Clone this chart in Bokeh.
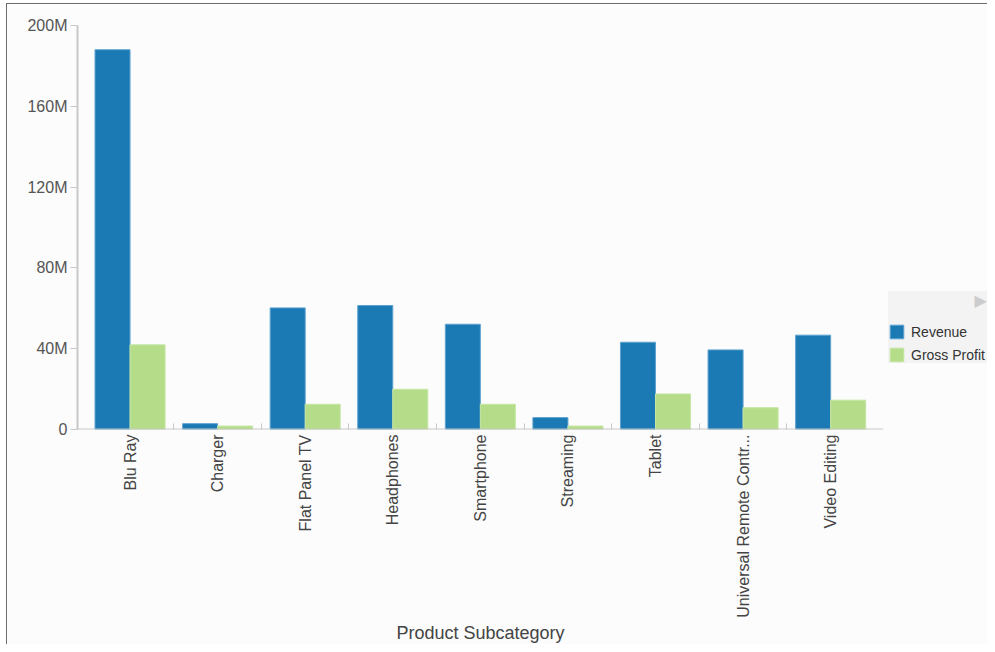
import math
from bokeh.plotting import figure
from bokeh.models import ColumnDataSource, FixedTicker, Range1d, Legend, LegendItem
from bokeh.embed import file_html
from bokeh.resources import INLINE

categories = ["Blu Ray", "Charger", "Flat Panel TV", "Headphones", "Smartphone",
              "Streaming", "Tablet", "Universal Remote Contr...", "Video Editing"]
revenue = [188.0, 2.9, 60.2, 61.4, 52.1, 5.9, 43.2, 39.4, 46.7]        # millions
gross_profit = [41.9, 1.7, 12.5, 19.9, 12.5, 1.7, 17.6, 10.8, 14.5]    # millions
y_ticks = [0, 40, 80, 120, 160, 200]
y_tick_labels = ["0", "40M", "80M", "120M", "160M", "200M"]
x_title = "Product Subcategory"

n = len(categories)
centers = [i + 0.5 for i in range(n)]
src = ColumnDataSource(dict(
    x_rev=[c - 0.2 for c in centers],
    x_gp=[c + 0.2 for c in centers],
    revenue=revenue,
    gross_profit=gross_profit,
))

# the plotting frame runs to the right edge so that the legend can sit inside it;
# the category axis itself only covers 805.7 px of the 911 px frame
x_start = -0.1
x_end = x_start + (n + 0.2) * 911 / 805.7

BG = "#fbfcfb"
p = figure(width=981, height=641, output_backend="svg", toolbar_location=None,
           x_range=Range1d(x_start, x_end), y_range=Range1d(0, 200),
           min_border_left=70, min_border_right=0, min_border_top=21, min_border_bottom=216)
p.margin = (3, 0, 0, 6)
p.background_fill_color = BG
p.border_fill_color = BG
p.outline_line_color = None
p.grid.visible = False
p.styles = {"border-left": "1px solid #6b6b6b", "border-top": "1px solid #6b6b6b", "box-sizing": "border-box"}

r1 = p.vbar(x="x_rev", top="revenue", width=0.4, source=src, fill_color="#1b79b4", line_color="#5fa3cf", line_width=1)
r2 = p.vbar(x="x_gp", top="gross_profit", width=0.4, source=src, fill_color="#b5dd89", line_color="#c6e6a4", line_width=1)

# x axis baseline (only under the categories)
p.line(x=[-0.1, n + 0.1], y=[0, 0], line_color="#c8c8c8", line_width=2)

xa = p.xaxis[0]
xa.ticker = FixedTicker(ticks=centers, minor_ticks=list(range(1, n)))
xa.major_label_overrides = {c: name for c, name in zip(centers, categories)}
xa.major_label_orientation = math.pi / 2
xa.major_tick_in = 0
xa.major_tick_out = 0
xa.minor_tick_in = 6
xa.minor_tick_out = 0
xa.minor_tick_line_color = "#c8c8c8"
xa.axis_line_color = None
xa.major_label_standoff = 5
xa.major_label_text_font = "Liberation Sans"
xa.major_label_text_font_size = "16px"
xa.major_label_text_color = "#444444"
# trailing no-break spaces shift the centred title under the category axis
xa.axis_label = x_title + "\u00a0" * 21
xa.axis_label_text_font = "Liberation Sans"
xa.axis_label_text_font_size = "18px"
xa.axis_label_text_font_style = "normal"
xa.axis_label_text_color = "#444444"
xa.axis_label_standoff = 2

ya = p.yaxis[0]
ya.ticker = FixedTicker(ticks=y_ticks)
ya.major_label_overrides = {t: l for t, l in zip(y_ticks, y_tick_labels)}
ya.minor_tick_line_color = None
ya.major_tick_in = 0
ya.major_tick_out = 7
ya.major_tick_line_color = "#c8c8c8"
ya.axis_line_color = "#c8c8c8"
ya.axis_line_width = 2
ya.major_label_standoff = 3
ya.major_label_text_font = "Liberation Sans"
ya.major_label_text_font_size = "16px"
ya.major_label_text_color = "#555555"

legend = Legend(items=[LegendItem(label="Revenue", renderers=[r1]),
                       LegendItem(label="Gross Profit", renderers=[r2])],
                location=(811, 66), title="\u00a0" * 17 + "\u25b6")
legend.title_text_font = "DejaVu Sans"
legend.title_text_font_size = "16px"
legend.title_text_font_style = "normal"
legend.title_text_color = "#cccccc"
legend.title_standoff = 13
legend.background_fill_color = "#f2f3f2"
legend.background_fill_alpha = 1
legend.border_line_color = None
legend.padding = 6
legend.margin = 0
legend.glyph_width = 17
legend.glyph_height = 17
legend.label_height = 17
legend.spacing = 6
legend.label_standoff = 6
legend.label_text_font = "Liberation Sans"
legend.label_text_font_size = "14px"
legend.label_text_color = "#333333"
p.add_layout(legend, "center")

open("out.html", "w").write(file_html(p, INLINE))
